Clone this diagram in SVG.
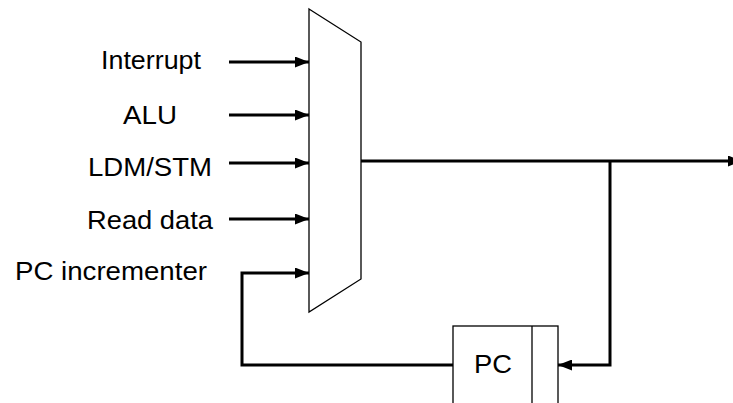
<svg xmlns="http://www.w3.org/2000/svg" width="733" height="403" viewBox="0 0 733 403">
<defs>
<style>
.lbl{font-family:"Liberation Sans",Arial,sans-serif;font-size:26.5px;fill:#000}
.wire{fill:none;stroke:#000;stroke-width:3}
.shape{fill:#fff;stroke:#000;stroke-width:1.3}
</style>
<marker id="arr" viewBox="0 0 14 11" refX="14" refY="5.5" markerWidth="14" markerHeight="11" markerUnits="userSpaceOnUse" orient="auto">
<path d="M0,0 L14,5.5 L0,11 Z" fill="#000"/>
</marker>
</defs>
<rect width="733" height="403" fill="#fff"/>
<g id="mux">
<path class="shape" d="M309,9 L361,42 L361,279 L309,312 Z"/>
</g>
<g id="pc">
<rect class="shape" x="453" y="326" width="105" height="90"/>
<line x1="532" y1="326" x2="532" y2="416" stroke="#000" stroke-width="1.3"/>
<text class="lbl" x="474" y="373" textLength="38" lengthAdjust="spacingAndGlyphs">PC</text>
</g>
<g id="labels">
<text class="lbl" x="101" y="69" textLength="100" lengthAdjust="spacingAndGlyphs">Interrupt</text>
<text class="lbl" x="123" y="124" textLength="54" lengthAdjust="spacingAndGlyphs">ALU</text>
<text class="lbl" x="88" y="176" textLength="124" lengthAdjust="spacingAndGlyphs">LDM/STM</text>
<text class="lbl" x="87" y="229" textLength="126" lengthAdjust="spacingAndGlyphs">Read data</text>
<text class="lbl" x="15" y="280" textLength="192" lengthAdjust="spacingAndGlyphs">PC incrementer</text>
</g>
<g id="connectors">
<line class="wire" x1="229" y1="62" x2="309" y2="62" marker-end="url(#arr)"/>
<line class="wire" x1="229" y1="115" x2="309" y2="115" marker-end="url(#arr)"/>
<line class="wire" x1="229" y1="163" x2="309" y2="163" marker-end="url(#arr)"/>
<line class="wire" x1="229" y1="219" x2="309" y2="219" marker-end="url(#arr)"/>
<path class="wire" d="M453,365 L242,365 L242,273 L309,273" marker-end="url(#arr)"/>
<line class="wire" x1="361" y1="161" x2="742" y2="161" marker-end="url(#arr)"/>
<path class="wire" d="M610,161 L610,365 L558,365" marker-end="url(#arr)"/>
</g>
</svg>
